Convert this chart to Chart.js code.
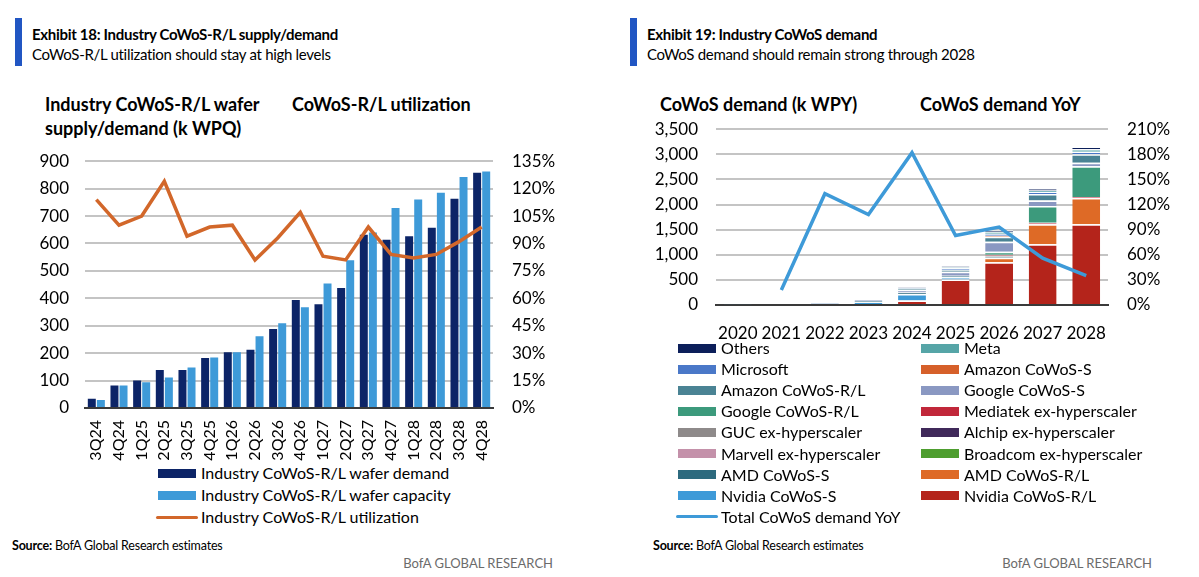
<!DOCTYPE html>
<html>
<head>
<meta charset="utf-8">
<script src="https://cdn.jsdelivr.net/npm/chart.js@4.4.1/dist/chart.umd.min.js"></script>
<style>
  body { margin: 0; background: #fff; width: 1199px; height: 577px; position: relative; overflow: hidden;
         font-family: Lato, "Liberation Sans", sans-serif; color: #000; }
  .abs { position: absolute; white-space: nowrap; }
  .accent { position: absolute; background: #2156C3; width: 7px; top: 18px; height: 48px; }
  .ex { font-weight: bold; font-size: 15px; line-height: 18px; letter-spacing: -0.3px; }
  .sub { font-size: 15px; line-height: 20px; letter-spacing: -0.3px; }
  .head { font-weight: bold; font-size: 18px; line-height: 23px; }
  .src { font-size: 12.5px; line-height: 16px; letter-spacing: -0.2px; }
  .brand { font-size: 13px; line-height: 16px; color: #6b6b6b; }
  .leg { position: absolute; font-size: 16px; line-height: 20px; white-space: nowrap; }
  .sw { position: absolute; }
  canvas { position: absolute; }
</style>
</head>
<body>

<div class="accent" style="left:15px"></div>
<div class="abs ex" style="left:32px; top:25px">Exhibit 18: Industry CoWoS-R/L supply/demand</div>
<div class="abs sub" style="left:32px; top:44px">CoWoS-R/L utilization should stay at high levels</div>
<div class="abs head" style="left:45px; top:93px">Industry CoWoS-R/L wafer</div>
<div class="abs head" style="left:45px; top:117px">supply/demand (k WPQ)</div>
<div class="abs head" style="left:292px; top:93px">CoWoS-R/L utilization</div>

<div class="accent" style="left:630px"></div>
<div class="abs ex" style="left:647px; top:25px">Exhibit 19: Industry CoWoS demand</div>
<div class="abs sub" style="left:647px; top:44px">CoWoS demand should remain strong through 2028</div>
<div class="abs head" style="left:660px; top:93px">CoWoS demand (k WPY)</div>
<div class="abs head" style="left:920px; top:93px">CoWoS demand YoY</div>

<!-- chart area tops include ~29px of label padding that Chart.js adds above the plot -->
<canvas id="supplyChart" width="560" height="331" style="left:0px; top:132px"></canvas>
<canvas id="demandChart" width="538" height="240" style="left:640px; top:100px"></canvas>

<div id="legendLeft"></div>
<div id="legendRight"></div>

<div class="abs src" style="left:12px; top:538px"><b>Source:</b> BofA Global Research estimates</div>
<div class="abs src" style="left:653px; top:538px"><b>Source:</b> BofA Global Research estimates</div>
<div class="abs brand" style="right:646px; top:555px">BofA GLOBAL RESEARCH</div>
<div class="abs brand" style="right:47px; top:555px">BofA GLOBAL RESEARCH</div>

<script>
// ---- Exhibit 18 data (k wafers per quarter, utilization %)
var quarters = ['3Q24', '4Q24', '1Q25', '2Q25', '3Q25', '4Q25', '1Q26', '2Q26', '3Q26',
                '4Q26', '1Q27', '2Q27', '3Q27', '4Q27', '1Q28', '2Q28', '3Q28', '4Q28'];
var waferDemand   = [34, 82, 100, 139, 139, 182, 203, 212, 288, 394, 378, 438, 632, 614, 626, 657, 763, 858];
var waferCapacity = [29, 82, 94, 111, 148, 184, 203, 262, 309, 367, 454, 539, 640, 729, 760, 785, 842, 862];
var utilization   = [114, 100, 105, 124, 94, 99, 100, 81, 93, 107, 83, 81, 99, 84, 82, 84, 91, 99];
var leftTicks  = [0, 100, 200, 300, 400, 500, 600, 700, 800, 900];
var rightTicks = [0, 15, 30, 45, 60, 75, 90, 105, 120, 135];

// ---- Exhibit 19 data (k wafers per year), stacked bottom -> top
var years = ['2020', '2021', '2022', '2023', '2024', '2025', '2026', '2027', '2028'];
var nvidiaRL   = [0, 0, 0, 0, 90, 510, 850, 1210, 1610];
var nvidiaS    = [15, 18, 30, 55, 130, 40, 0, 0, 0];
var amdRL      = [0, 0, 0, 0, 0, 0, 90, 400, 520];
var amdS       = [0, 0, 0, 25, 30, 30, 20, 0, 0];
var broadcom   = [0, 0, 0, 0, 0, 0, 0, 0, 0];
var marvell    = [0, 0, 0, 0, 0, 0, 0, 0, 0];
var alchip     = [0, 0, 0, 0, 0, 0, 0, 0, 0];
var guc        = [0, 0, 0, 0, 0, 0, 20, 0, 0];
var mediatek   = [0, 0, 0, 0, 0, 0, 20, 30, 20];
var googleRL   = [0, 0, 0, 0, 0, 0, 60, 330, 610];
var googleS    = [0, 0, 20, 20, 50, 80, 200, 110, 70];
var amazonRL   = [0, 0, 0, 0, 20, 40, 100, 130, 170];
var amazonS    = [0, 0, 0, 0, 0, 0, 20, 0, 0];
var microsoft  = [0, 0, 0, 0, 10, 30, 40, 40, 50];
var meta       = [0, 0, 0, 0, 10, 20, 40, 30, 50];
var others     = [0, 0, 0, 0, 10, 20, 30, 40, 50];
var demandYoY  = [null, 18, 133, 108, 182, 83, 93, 56, 35];
var demandTicks = [0, 500, 1000, 1500, 2000, 2500, 3000, 3500];
var yoyTicks    = [0, 30, 60, 90, 120, 150, 180, 210];

var FONT = 'Lato, "Liberation Sans", sans-serif';
var GRID = '#c4c4c4';

function fixWidth(w) { return function(scale) { scale.width = w; }; }
function fixHeight(h) { return function(scale) { scale.height = h; }; }
function nz(arr) { return arr.map(function(v) { return v === 0 ? null : v; }); }

// ---------------- Exhibit 18
var supplySets = [
    { type: 'line', label: 'Industry CoWoS-R/L utilization', data: utilization, yAxisID: 'y1',
      borderColor: '#D2672A', backgroundColor: '#D2672A', borderWidth: 3.5, pointRadius: 0, tension: 0, order: 0 },
    { type: 'bar', label: 'Industry CoWoS-R/L wafer demand', data: waferDemand, yAxisID: 'y',
      backgroundColor: '#0C2467', barPercentage: 0.88, categoryPercentage: 0.8, order: 1 },
    { type: 'bar', label: 'Industry CoWoS-R/L wafer capacity', data: waferCapacity, yAxisID: 'y',
      backgroundColor: '#3E9AD8', barPercentage: 0.88, categoryPercentage: 0.8, order: 1 }
];

new Chart(document.getElementById('supplyChart'), {
    data: { labels: quarters, datasets: supplySets },
    options: {
        responsive: false, animation: false, devicePixelRatio: 1,
        layout: { padding: 0 },
        plugins: { legend: { display: false }, tooltip: { enabled: false } },
        scales: {
            x: {
                grid: { display: false },
                border: { color: '#3a3a3a', width: 2 },
                ticks: { color: '#000', font: { family: FONT, size: 16 }, minRotation: 90, maxRotation: 90,
                         autoSkip: false, padding: 4 },
                afterFit: fixHeight(55)
            },
            y: {
                position: 'left', min: 0, max: 900,
                afterBuildTicks: function(s) { s.ticks = leftTicks.map(function(v) { return { value: v }; }); },
                grid: { color: GRID, lineWidth: 2, drawTicks: false },
                border: { display: false },
                ticks: { color: '#000', font: { family: FONT, size: 17 }, padding: 16, autoSkip: false },
                afterFit: fixWidth(85)
            },
            y1: {
                position: 'right', min: 0, max: 135,
                afterBuildTicks: function(s) { s.ticks = rightTicks.map(function(v) { return { value: v }; }); },
                grid: { display: false, drawTicks: false },
                border: { display: false },
                ticks: { color: '#000', font: { family: FONT, size: 17 }, padding: 19, autoSkip: false,
                         callback: function(v) { return v + '%'; } },
                afterFit: fixWidth(67)
            }
        }
    }
});

// ---------------- Exhibit 19
var stackSeries = [
    ['Nvidia CoWoS-R/L', nvidiaRL, '#B4241B'],
    ['Nvidia CoWoS-S', nvidiaS, '#3E9AD8'],
    ['AMD CoWoS-R/L', amdRL, '#DE6A26'],
    ['AMD CoWoS-S', amdS, '#2D6A7E'],
    ['Broadcom ex-hyperscaler', broadcom, '#4E9E2F'],
    ['Marvell ex-hyperscaler', marvell, '#C491AA'],
    ['Alchip ex-hyperscaler', alchip, '#40295A'],
    ['GUC ex-hyperscaler', guc, '#8E8A8A'],
    ['Mediatek ex-hyperscaler', mediatek, '#C1273A'],
    ['Google CoWoS-R/L', googleRL, '#3C9A7C'],
    ['Google CoWoS-S', googleS, '#8A98C2'],
    ['Amazon CoWoS-R/L', amazonRL, '#4A8394'],
    ['Amazon CoWoS-S', amazonS, '#D6602A'],
    ['Microsoft', microsoft, '#4A78C8'],
    ['Meta', meta, '#56A5A7'],
    ['Others', others, '#0C1F5A']
];

var demandSets = [{
    type: 'line', label: 'Total CoWoS demand YoY', data: demandYoY, yAxisID: 'y1',
    borderColor: '#3E9AD8', backgroundColor: '#3E9AD8', borderWidth: 3.5, pointRadius: 0, tension: 0, order: 0
}];
stackSeries.forEach(function(s) {
    demandSets.push({
        type: 'bar', label: s[0], data: nz(s[1]), backgroundColor: s[2], yAxisID: 'y', stack: 'cowos',
        borderColor: '#ffffff', borderWidth: { top: 1.5, left: 0, right: 0, bottom: 0 }, borderSkipped: false,
        barPercentage: 0.64, categoryPercentage: 1, order: 1
    });
});

new Chart(document.getElementById('demandChart'), {
    data: { labels: years, datasets: demandSets },
    options: {
        responsive: false, animation: false, devicePixelRatio: 1,
        layout: { padding: 0 },
        plugins: { legend: { display: false }, tooltip: { enabled: false } },
        scales: {
            x: {
                stacked: true,
                grid: { display: false },
                border: { color: '#3a3a3a', width: 2 },
                ticks: { color: '#000', font: { family: FONT, size: 17 }, maxRotation: 0, autoSkip: false, padding: 10 },
                afterFit: fixHeight(35)
            },
            y: {
                stacked: true, position: 'left', min: 0, max: 3500,
                afterBuildTicks: function(s) { s.ticks = demandTicks.map(function(v) { return { value: v }; }); },
                grid: { color: GRID, lineWidth: 2, drawTicks: false },
                border: { display: false },
                ticks: { color: '#000', font: { family: FONT, size: 17 }, padding: 18, autoSkip: false,
                         callback: function(v) { return v.toLocaleString('en-US'); } },
                afterFit: fixWidth(76)
            },
            y1: {
                position: 'right', min: 0, max: 210,
                afterBuildTicks: function(s) { s.ticks = yoyTicks.map(function(v) { return { value: v }; }); },
                grid: { display: false, drawTicks: false },
                border: { display: false },
                ticks: { color: '#000', font: { family: FONT, size: 17 }, padding: 19, autoSkip: false,
                         callback: function(v) { return v + '%'; } },
                afterFit: fixWidth(70)
            }
        }
    }
});

// ---------------- HTML legends
function addItem(parent, x, cy, label, color, isLine) {
    var sw = document.createElement('div');
    sw.className = 'sw';
    sw.style.background = color;
    if (isLine) {
        sw.style.left = (x - 2) + 'px'; sw.style.width = '42px';
        sw.style.top = (cy - 1.5) + 'px'; sw.style.height = '3px'; sw.style.borderRadius = '2px';
    } else {
        sw.style.left = x + 'px'; sw.style.width = '38px';
        sw.style.top = (cy - 4.5) + 'px'; sw.style.height = '9px';
    }
    parent.appendChild(sw);
    var t = document.createElement('div');
    t.className = 'leg';
    t.textContent = label;
    t.style.left = (x + 43) + 'px';
    t.style.top = (cy - 10) + 'px';
    parent.appendChild(t);
}

var legL = document.getElementById('legendLeft');
addItem(legL, 158, 473, supplySets[1].label, supplySets[1].backgroundColor, false);
addItem(legL, 158, 495, supplySets[2].label, supplySets[2].backgroundColor, false);
addItem(legL, 158, 517, supplySets[0].label, supplySets[0].borderColor, true);

var legR = document.getElementById('legendRight');
var legendOrder = stackSeries.slice().reverse();
legendOrder.forEach(function(s, i) {
    var col = i % 2, row = Math.floor(i / 2);
    addItem(legR, col === 0 ? 678 : 921, 348 + row * 21.1, s[0], s[2], false);
});
addItem(legR, 678, 348 + 8 * 21.1, demandSets[0].label, demandSets[0].borderColor, true);
</script>
</body>
</html>
